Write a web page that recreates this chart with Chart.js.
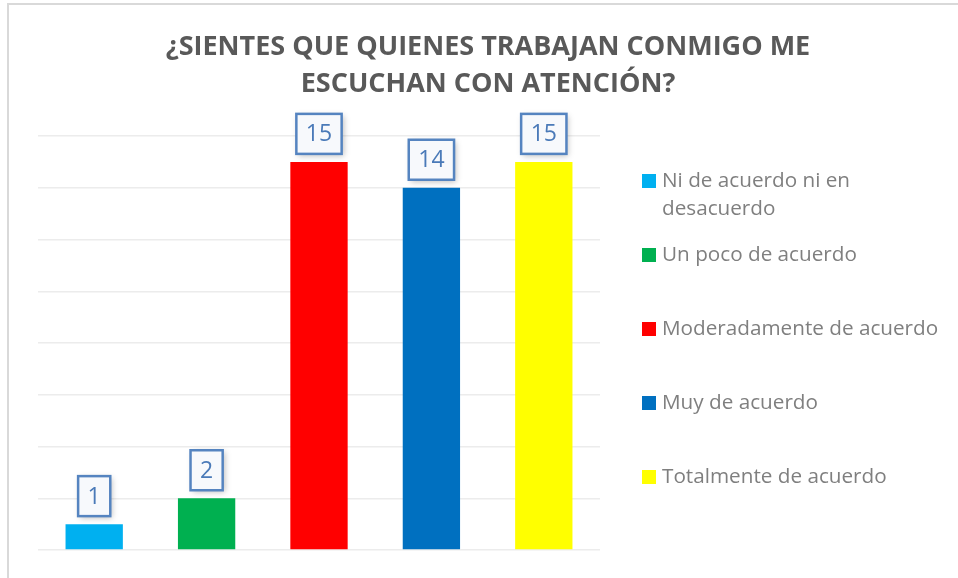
<!DOCTYPE html>
<html>
<head>
<meta charset="utf-8">
<script src="https://cdn.jsdelivr.net/npm/chart.js@4"></script>
<style>
  html, body { margin: 0; padding: 0; background: #fff; }
  #wrap { position: relative; width: 958px; height: 578px; }
</style>
</head>
<body>
<div id="wrap"><canvas id="chart" width="958" height="578"></canvas></div>
<script>
const titleLines = ['¿SIENTES QUE QUIENES TRABAJAN CONMIGO ME', 'ESCUCHAN CON ATENCIÓN?'];
const categories = ['Ni de acuerdo ni en desacuerdo', 'Un poco de acuerdo', 'Moderadamente de acuerdo', 'Muy de acuerdo', 'Totalmente de acuerdo'];
const values = [1, 2, 15, 14, 15];
const barColors = ['#00b0f0', '#00b050', '#ff0000', '#0070c0', '#ffff00'];
const yMax = 16, yStep = 2;

// frame, title and side legend
const decor = {
  id: 'decor',
  beforeDraw(chart) {
    const c = chart.ctx;
    c.save();
    c.fillStyle = '#d9d9d9';
    c.fillRect(7, 3, 2, 575);
    c.fillRect(7, 3, 951, 2);
    c.restore();
  },
  afterDraw(chart) {
    const c = chart.ctx;
    c.save();
    c.fillStyle = '#595959';
    c.font = 'bold 27px "Open Sans"';
    c.textAlign = 'center';
    c.textBaseline = 'middle';
    titleLines.forEach((t, i) => c.fillText(t, 488, 47 + i * 37));

    c.font = '20.7px "Open Sans"';
    c.textAlign = 'left';
    let y = 181;
    chart.data.labels.forEach((lab, i) => {
      c.fillStyle = barColors[i];
      c.fillRect(642, y - 7, 14, 14);
      // wrap long labels
      const words = lab.split(' ');
      const lines = [];
      let cur = '';
      words.forEach(w => {
        const test = cur ? cur + ' ' + w : w;
        if (c.measureText(test).width > 290 && cur) { lines.push(cur); cur = w; }
        else cur = test;
      });
      lines.push(cur);
      c.fillStyle = '#7f7f7f';
      lines.forEach((l, k) => c.fillText(l, 662, y + k * 28));
      y += 74;
    });
    c.restore();
  }
};

// boxed value labels above bars
const boxLabels = {
  id: 'boxLabels',
  afterDatasetsDraw(chart) {
    const c = chart.ctx;
    const meta = chart.getDatasetMeta(0);
    c.save();
    c.font = '23px "Open Sans"';
    c.textAlign = 'center';
    c.textBaseline = 'middle';
    meta.data.forEach((bar, i) => {
      const txt = String(values[i]);
      const w = c.measureText(txt).width + 19;
      const h = 40;
      const x = bar.x - w / 2;
      const yb = bar.y - 8;
      c.shadowColor = 'rgba(0,0,0,0.25)';
      c.shadowBlur = 6;
      c.shadowOffsetX = 2;
      c.shadowOffsetY = 2;
      c.fillStyle = '#f7f9fc';
      c.fillRect(x, yb - h, w, h);
      c.shadowColor = 'transparent';
      c.strokeStyle = '#5584c0';
      c.lineWidth = 2.5;
      c.strokeRect(x, yb - h, w, h);
      c.fillStyle = '#4a7ab8';
      c.fillText(txt, bar.x, yb - h / 2 + 1);
    });
    c.restore();
  }
};

new Chart(document.getElementById('chart'), {
  type: 'bar',
  data: {
    labels: categories,
    datasets: [{
      data: values,
      backgroundColor: barColors,
      categoryPercentage: 1,
      barPercentage: 0.51
    }]
  },
  options: {
    responsive: false,
    animation: false,
    layout: { padding: { left: 38, right: 358, top: 136, bottom: 28 } },
    plugins: { legend: { display: false }, title: { display: false }, tooltip: { enabled: false } },
    scales: {
      x: { display: false },
      y: {
        min: 0, max: yMax,
        ticks: { display: false, stepSize: yStep },
        grid: { color: '#ececec', lineWidth: 1.5, drawTicks: false },
        border: { display: false }
      }
    }
  },
  plugins: [decor, boxLabels]
});
</script>
</body>
</html>
